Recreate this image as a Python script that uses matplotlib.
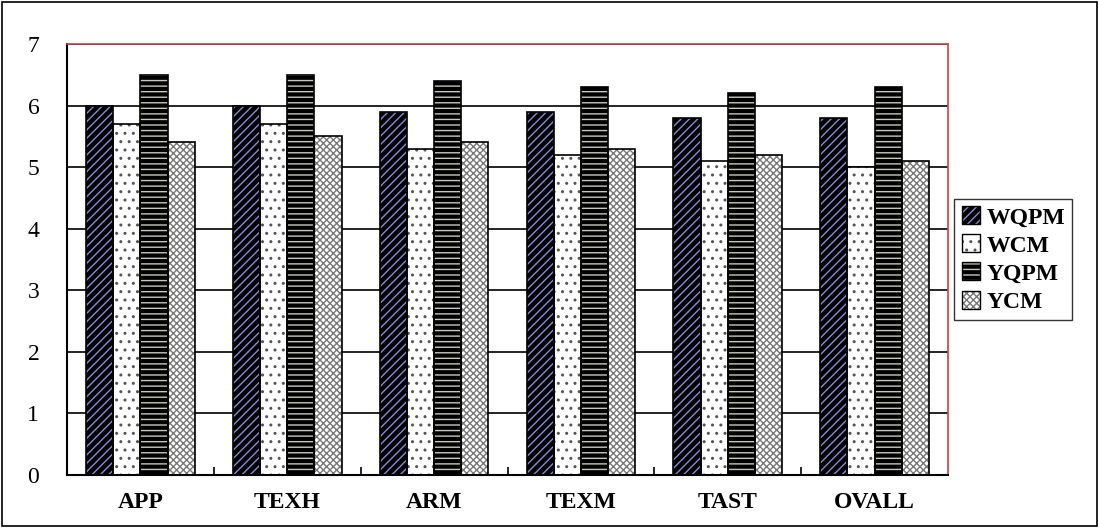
import matplotlib.pyplot as plt
import numpy as np
from matplotlib.patches import Patch, Rectangle

categories = ["APP", "TEXH", "ARM", "TEXM", "TAST", "OVALL"]
series = ["WQPM", "WCM", "YQPM", "YCM"]
wqpm = [6.0, 6.0, 5.9, 5.9, 5.8, 5.8]
wcm = [5.7, 5.7, 5.3, 5.2, 5.1, 5.0]
yqpm = [6.5, 6.5, 6.4, 6.3, 6.2, 6.3]
ycm = [5.4, 5.5, 5.4, 5.3, 5.2, 5.1]

plt.rcParams['font.family'] = ['Liberation Serif', 'DejaVu Serif']
plt.rcParams['hatch.linewidth'] = 1.0

fig = plt.figure(figsize=(10.99, 5.28), dpi=100)
ax = fig.add_axes([0.061, 0.1004, 0.8016, 0.8163])

# face, hatch colour, hatch
styles = [("black", "#8a8ad8", "////"),
          ("white", "#555555", ".."),
          ("black", "#c8c8b8", "---"),
          ("white", "#777777", "xxxxx")]

x = np.arange(len(categories))
w = 0.185
handles = []
for i, (vals, (fc, hc, h)) in enumerate(zip([wqpm, wcm, yqpm, ycm], styles)):
    pos = x + (i - 1.5) * w
    ax.bar(pos, vals, w, color=fc, edgecolor=hc, hatch=h, linewidth=0, zorder=2)
    ax.bar(pos, vals, w, fill=False, edgecolor="black", linewidth=1.2, zorder=3)
    handles.append((Patch(facecolor=fc, edgecolor=hc, hatch=h, linewidth=0),
                    Patch(fill=False, edgecolor="black", linewidth=1.0)))

ax.set_ylim(0, 7)
ax.set_xlim(-0.5, len(categories) - 0.5)
ax.set_yticks(range(8))
ax.set_yticklabels([str(v) for v in range(8)], fontsize=17)
ax.yaxis.grid(True, color="black", linewidth=1.2, zorder=0)
ax.set_axisbelow(True)
ax.set_xticks(x)
ax.set_xticklabels(categories, fontsize=17, fontweight='bold')
ax.set_xticks(np.arange(0.5, len(categories) - 0.5, 1), minor=True)
ax.tick_params(axis='x', which='major', length=0, pad=12)
ax.tick_params(axis='x', which='minor', direction='in', length=6, width=1.2)
ax.tick_params(axis='y', length=0, pad=20)

for s in ["left", "bottom"]:
    ax.spines[s].set_color("black")
    ax.spines[s].set_linewidth(1.5)
for s in ["top", "right"]:
    ax.spines[s].set_color("#d04040")
    ax.spines[s].set_linewidth(1.2)

leg = ax.legend(handles, series, loc="center left", bbox_to_anchor=(1.002, 0.5),
                prop={'size': 17, 'weight': 'bold'}, frameon=True, fancybox=False,
                edgecolor="black", handlelength=0.8, handleheight=0.8,
                handletextpad=0.25, borderpad=0.3, labelspacing=0.25,
                borderaxespad=0.2)
leg.get_frame().set_linewidth(1.0)

fig.patches.append(Rectangle((0.002, 0.004), 0.996, 0.992, transform=fig.transFigure,
                             fill=False, edgecolor="black", linewidth=1.2))

fig.savefig("out.png", dpi=100)
